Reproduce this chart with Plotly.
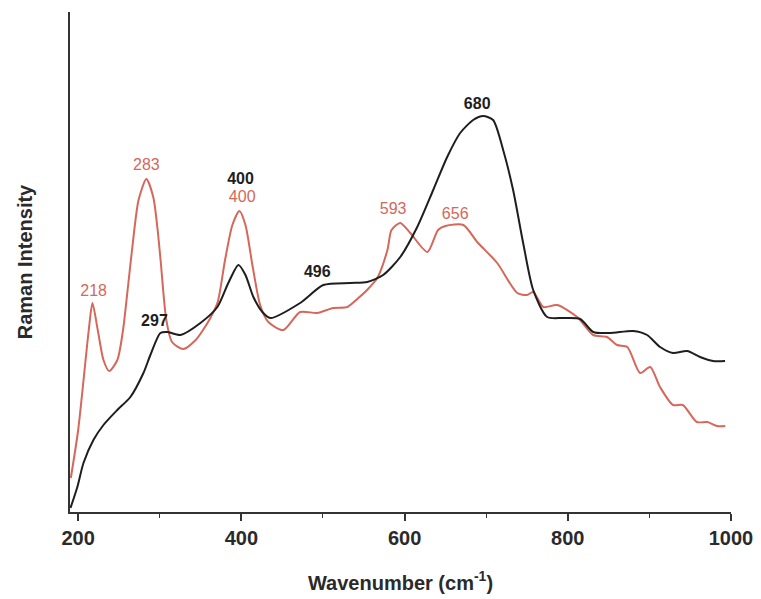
import plotly.graph_objects as go

# Wavenumber (cm^-1) and intensity (arbitrary units)
red_x = [191, 200, 213, 217.5, 224, 231, 238, 248, 255, 261, 266, 274, 283.6, 292, 297, 301, 308, 315,
         329, 344, 353, 362, 371, 380, 389, 397.6, 405, 413.5, 423, 433, 451.5, 472, 493, 512.6,
         530, 542, 554, 566.5, 579, 584, 594.7, 607, 628, 641, 650, 672, 689, 713.5, 738, 750,
         757.6, 770, 787, 811.5, 831, 848, 860.5, 873, 888.6, 901, 913, 929, 941, 958, 971, 983, 993]
red_y = [34, 82, 182, 209, 182, 152, 141, 152, 182, 225, 262, 312, 333, 315, 285, 252, 192, 170,
         163, 172, 182, 194, 210, 252, 287, 301, 287, 247, 207, 190, 182, 200, 199, 204,
         205, 213, 222, 234, 262, 282, 289, 279, 260, 282, 286, 287, 270, 249, 219, 217,
         220, 205, 207, 195, 177, 175, 167, 165, 139, 145, 125, 107, 107, 90, 90, 86, 86]

black_x = [190.6, 199, 206.5, 218.7, 231, 248, 264, 280, 288.5, 300.8, 309.3, 325.3, 349.8, 370.6,
           384, 396.4, 405, 414.7, 425.7, 435.5, 472, 500.4, 533.4, 554.3, 573.8, 594.7, 615.5,
           635.1, 652.2, 668.1, 684, 696.3, 708.5, 720.8, 733, 745.3, 757.6, 774.7, 794.3, 815.2,
           831.1, 851.9, 880.1, 897.2, 913.1, 929, 946.2, 962.1, 978, 992.7]
black_y = [4, 25, 49, 72, 87, 102, 115, 139, 157, 179, 180, 177, 189, 205,
           229, 247, 237, 215, 200, 194, 209, 227, 229, 230, 237, 255, 285,
           322, 355, 379, 392, 396, 392, 362, 322, 269, 222, 195, 194, 193,
           180, 179, 181, 177, 165, 159, 161, 155, 151, 151]

# Peak labels
red_lab_text = ["218", "283", "400", "593", "656"]
red_lab_x = [219, 283.6, 401, 586, 662]
red_lab_y = [220, 346, 314, 302, 297]
black_lab_text = ["297", "400", "496", "680"]
black_lab_x = [293.5, 399, 493, 689]
black_lab_y = [190, 332, 239, 407]

tick_vals = [200, 400, 600, 800, 1000]
tick_text = ["200", "400", "600", "800", "1000"]

RED = "#d5675b"
BLACK = "#1e1e1e"
FONT = "Liberation Sans, Arial, sans-serif"

fig = go.Figure()
fig.add_trace(go.Scatter(x=red_x, y=red_y, mode="lines",
                         line=dict(color=RED, width=2, shape="spline", smoothing=0.7),
                         showlegend=False, hoverinfo="skip"))
fig.add_trace(go.Scatter(x=black_x, y=black_y, mode="lines",
                         line=dict(color=BLACK, width=2, shape="spline", smoothing=0.7),
                         showlegend=False, hoverinfo="skip"))
fig.add_trace(go.Scatter(x=red_lab_x, y=red_lab_y, mode="text", text=red_lab_text,
                         textfont=dict(color=RED, size=16, family=FONT),
                         showlegend=False, hoverinfo="skip"))
fig.add_trace(go.Scatter(x=black_lab_x, y=black_lab_y, mode="text",
                         text=["<b>%s</b>" % t for t in black_lab_text],
                         textfont=dict(color=BLACK, size=16, family=FONT),
                         showlegend=False, hoverinfo="skip"))

fig.update_layout(
    width=754, height=591,
    margin=dict(l=62, r=31, t=4, b=87),
    paper_bgcolor="white", plot_bgcolor="white",
    font=dict(family=FONT, color="#2a2a2a"),
    xaxis=dict(range=[190, 1000], tickvals=tick_vals, ticktext=tick_text, automargin=False,
               ticks="outside", ticklen=7, tickwidth=1.5, tickcolor="#333",
               minor=dict(tickvals=[300, 500, 700, 900], ticks="outside", ticklen=4,
                          tickwidth=1.2, tickcolor="#333"),
               showline=True, linecolor="#333", linewidth=1.5,
               showgrid=False, zeroline=False,
               tickfont=dict(size=20, family=FONT, color="#2a2a2a", weight="bold"),
               title=dict(text="<b>Wavenumber (cm<sup>-1</sup>)</b>",
                          font=dict(size=20, family=FONT, color="#2a2a2a"), standoff=28)),
    yaxis=dict(range=[0, 500], showticklabels=False, ticks="", automargin=False,
               showline=True, linecolor="#333", linewidth=1.5,
               showgrid=False, zeroline=False,
               title=dict(text="<b>Raman Intensity</b>",
                          font=dict(size=20, family=FONT, color="#2a2a2a"), standoff=30)),
)

fig.write_html("out.html")
